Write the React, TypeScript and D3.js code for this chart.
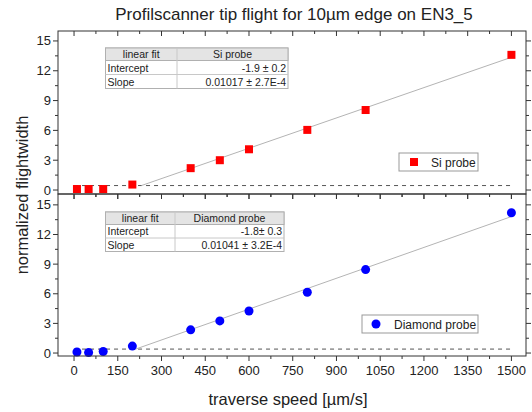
import React from "react";
import * as d3 from "d3";

// traverse speed [µm/s]
const speeds = [10, 50, 100, 200, 400, 500, 600, 800, 1000, 1500];
const siWidth = [0.1, 0.1, 0.1, 0.55, 2.2, 3.0, 4.1, 6.05, 8.05, 13.6];
const diamondWidth = [0.1, 0.05, 0.15, 0.7, 2.35, 3.25, 4.25, 6.15, 8.45, 14.2];

const siFit = { intercept: -1.9, slope: 0.01017, base: 0.45 };
const diamondFit = { intercept: -1.8, slope: 0.01041, base: 0.4 };

const siTable = [["Intercept", "-1.9 ± 0.2"], ["Slope", "0.01017 ± 2.7E-4"]];
const diamondTable = [["Intercept", "-1.8± 0.3"], ["Slope", "0.01041 ± 3.2E-4"]];

const xTicks = d3.range(0, 1501, 150);
const yTicks = d3.range(0, 16, 3);

const font = "'Liberation Sans', Arial, sans-serif";
const left = 58, right = 526;

const x = d3.scaleLinear().domain([-55, 1550]).range([left, right]);

function Table(props: any) {
  const { x0, y0, w, c1, rows, title, rh } = props;
  const hh = 12.5;
  return (
    <g fontFamily={font} fontSize={10.5} fill="#222">
      <rect x={x0} y={y0} width={w} height={hh + rh * 2} fill="#fff" stroke="#b0b0b0" strokeWidth={1} />
      <rect x={x0} y={y0} width={w} height={hh} fill="#e4e4e4" stroke="#b0b0b0" strokeWidth={1} />
      <line x1={x0} x2={x0 + w} y1={y0 + hh + rh} y2={y0 + hh + rh} stroke="#c8c8c8" />
      <line x1={x0 + c1} x2={x0 + c1} y1={y0} y2={y0 + hh + rh * 2} stroke="#c8c8c8" />
      <text x={x0 + c1 / 2} y={y0 + hh - 2.5} textAnchor="middle">linear fit</text>
      <text x={x0 + c1 + (w - c1) / 2} y={y0 + hh - 2.5} textAnchor="middle">{title}</text>
      {rows.map((r: string[], i: number) => (
        <g key={i}>
          <text x={x0 + 2} y={y0 + hh + rh * (i + 1) - 3}>{r[0]}</text>
          <text x={x0 + w - 2} y={y0 + hh + rh * (i + 1) - 3} textAnchor="end">{r[1]}</text>
        </g>
      ))}
    </g>
  );
}

function Panel(props: any) {
  const { top, bottom, domain, values, fit, kind, color, showXLabels, legend, table } = props;
  const y = d3.scaleLinear().domain(domain).range([bottom, top]);
  const minorX = d3.range(75, 1550, 150);
  const minorY = d3.range(1.5, 16, 3);
  const fitStart = (fit.base - fit.intercept) / fit.slope;
  const fitLine = d3.line<number>().x((d) => x(d)).y((d) => y(fit.intercept + fit.slope * d));
  return (
    <g>
      {/* dashed baseline */}
      <line x1={x(0)} x2={x(1500)} y1={y(fit.base)} y2={y(fit.base)} stroke="#555" strokeWidth={1} strokeDasharray="4,4" />
      {/* linear fit */}
      <path d={fitLine([fitStart, 1500]) || ""} stroke="#b4b4b4" strokeWidth={1} fill="none" />
      {/* markers */}
      {values.map((v: number, i: number) =>
        kind === "square" ? (
          <rect key={i} x={x(speeds[i]) - 4} y={y(v) - 4} width={8} height={8} fill={color} />
        ) : (
          <circle key={i} cx={x(speeds[i])} cy={y(v)} r={4.5} fill={color} />
        )
      )}
      {/* frame */}
      <rect x={left} y={top} width={right - left} height={bottom - top} fill="none" stroke="#333" strokeWidth={1} />
      {/* left and right ticks */}
      {yTicks.map((t) => (
        <g key={t}>
          <line x1={left - 5} x2={left} y1={y(t)} y2={y(t)} stroke="#333" />
          <line x1={right} x2={right + 5} y1={y(t)} y2={y(t)} stroke="#333" />
          <text x={left - 7} y={y(t) + 4.5} textAnchor="end" fontFamily={font} fontSize={13} fill="#222">{t}</text>
        </g>
      ))}
      {minorY.map((t) => (
        <g key={t}>
          <line x1={left - 3} x2={left} y1={y(t)} y2={y(t)} stroke="#333" />
          <line x1={right} x2={right + 3} y1={y(t)} y2={y(t)} stroke="#333" />
        </g>
      ))}
      {/* top ticks (inward) */}
      {xTicks.map((t) => (
        <line key={t} x1={x(t)} x2={x(t)} y1={top} y2={top + 5} stroke="#333" />
      ))}
      {minorX.map((t) => (
        <line key={t} x1={x(t)} x2={x(t)} y1={top} y2={top + 3} stroke="#333" />
      ))}
      {/* bottom ticks (outward) */}
      {xTicks.map((t) => (
        <g key={t}>
          <line x1={x(t)} x2={x(t)} y1={bottom} y2={bottom + 5} stroke="#333" />
          {showXLabels && (
            <text x={x(t)} y={bottom + 19} textAnchor="middle" fontFamily={font} fontSize={13} fill="#222">{t}</text>
          )}
        </g>
      ))}
      {minorX.map((t) => (
        <line key={t} x1={x(t)} x2={x(t)} y1={bottom} y2={bottom + 3} stroke="#333" />
      ))}
      {/* legend */}
      <rect x={legend.x} y={legend.y} width={legend.w} height={18} fill="#fff" stroke="#999" />
      {kind === "square" ? (
        <rect x={legend.x + 11} y={legend.y + 5} width={8} height={8} fill={color} />
      ) : (
        <circle cx={legend.x + 14} cy={legend.y + 9} r={4.5} fill={color} />
      )}
      <text x={legend.x + legend.tx} y={legend.y + 13.5} fontFamily={font} fontSize={12} fill="#222">{legend.label}</text>
      <Table {...table} />
    </g>
  );
}

export default function App() {
  return (
    <svg width={532} height={412} style={{ position: "absolute", left: 0, top: 0, background: "#fff" }}>
      <rect width={532} height={412} fill="#fff" />
      <text x={294} y={20} textAnchor="middle" fontFamily={font} fontSize={17} fill="#222">
        Profilscanner tip flight for 10µm edge on EN3_5
      </text>
      <Panel
        top={31}
        bottom={194}
        domain={[-0.4, 16]}
        values={siWidth}
        fit={siFit}
        kind="square"
        color="#ff0000"
        showXLabels={false}
        legend={{ x: 399, y: 153, w: 79, tx: 32, label: "Si probe" }}
        table={{ x0: 105.5, y0: 48, w: 182.5, c1: 71.5, rows: siTable, title: "Si probe", rh: 14 }}
      />
      <Panel
        top={194}
        bottom={356}
        domain={[-0.3, 16.1]}
        values={diamondWidth}
        fit={diamondFit}
        kind="circle"
        color="#0000ff"
        showXLabels={true}
        legend={{ x: 362, y: 315, w: 116, tx: 32, label: "Diamond probe" }}
        table={{ x0: 105.5, y0: 212, w: 178.5, c1: 69.5, rows: diamondTable, title: "Diamond probe", rh: 13.5 }}
      />
      <text x={288} y={405} textAnchor="middle" fontFamily={font} fontSize={16.5} fill="#222">
        traverse speed [µm/s]
      </text>
      <text transform="translate(28,195) rotate(-90)" textAnchor="middle" fontFamily={font} fontSize={16.5} fill="#222">
        normalized flightwidth
      </text>
    </svg>
  );
}
